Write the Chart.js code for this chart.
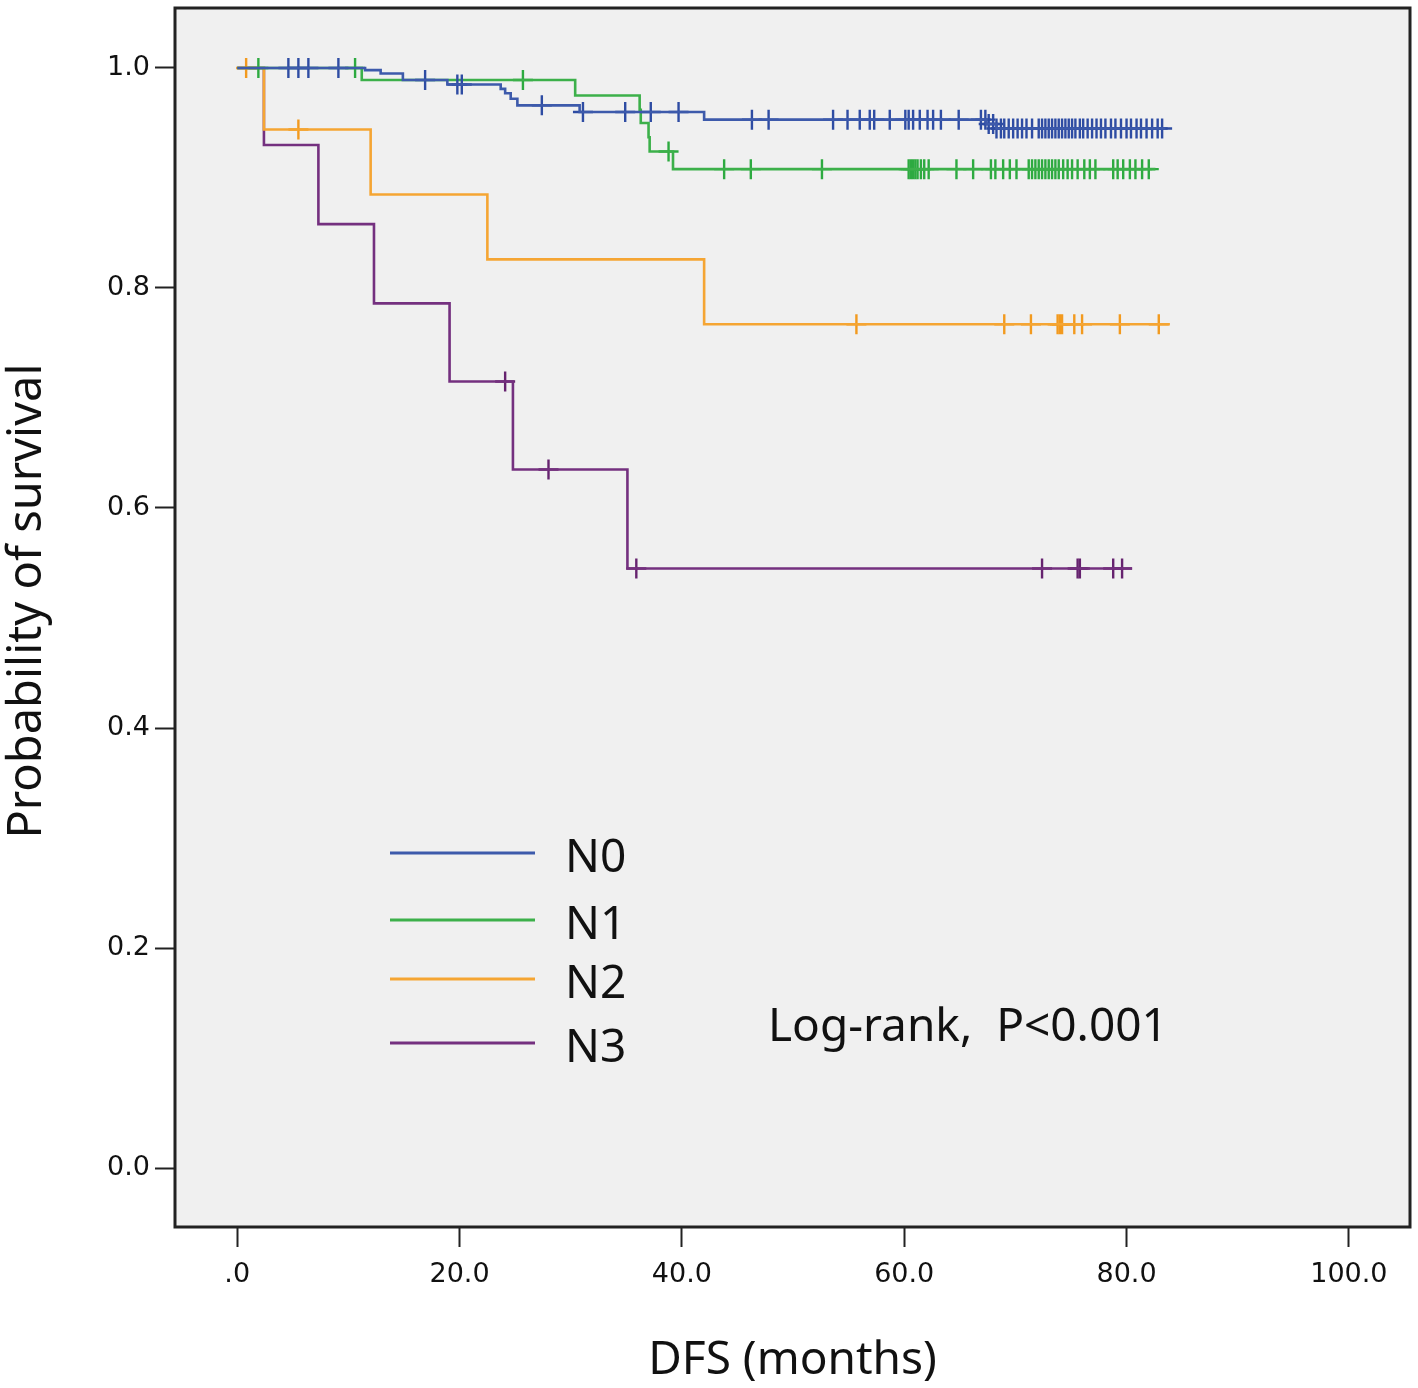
<!DOCTYPE html>
<html>
<head>
<meta charset="utf-8">
<script src="https://cdn.jsdelivr.net/npm/chart.js@4.4.1/dist/chart.umd.min.js"></script>
<style>
  body { margin: 0; background: #ffffff; }
  #wrap { width: 1418px; height: 1388px; }
</style>
</head>
<body>
<div id="wrap"><canvas id="kmChart" width="1418" height="1388"></canvas></div>
<script>
// tick values
var xTicks = [0, 20, 40, 60, 80, 100];
var yTicks = [0, 0.2, 0.4, 0.6, 0.8, 1.0];

var groupNames = ['N0', 'N1', 'N2', 'N3'];
var yTitle = 'Probability of survival';
var xTitle = 'DFS (months)';
var testNote = 'Log-rank,  P<0.001';

// N0 - event times / survival after each step (last entry = end of follow-up)
var n0Times = [0, 11.5, 12.9, 14.9, 18.9, 23.7, 24.1, 24.6, 25.2, 30.8, 42.0, 67.4, 68.3, 83.5];
var n0Surv  = [1.0, 0.998, 0.995, 0.989, 0.985, 0.981, 0.977, 0.972, 0.966, 0.960, 0.953, 0.949, 0.945, 0.945];
var n0Censor = [4.6, 5.5, 6.4, 9.1, 16.9, 19.8, 20.2, 27.4, 31.1, 34.9, 37.2, 39.7, 46.3, 47.8,
    53.6, 54.9, 56.0, 56.9, 57.3, 58.7, 60.1, 60.4, 60.8, 61.4, 62.1, 62.6, 63.3, 64.9, 66.9, 67.3, 67.6,
    68.0, 68.3, 68.7, 69.0, 69.4, 69.8, 70.2, 70.6, 71.0, 71.5, 72.1, 72.4, 72.7, 73.0, 73.3, 73.6,
    73.9, 74.2, 74.5, 74.8, 75.1, 75.4, 75.8, 76.1, 76.5, 76.9, 77.3, 77.7, 78.1, 78.6, 79.0, 79.5,
    80.0, 80.4, 80.9, 81.3, 81.8, 82.3, 82.8, 83.2];

// N1
var n1Times = [0, 11.2, 30.4, 36.2, 36.3, 37.0, 37.1, 39.2, 82.6];
var n1Surv  = [1.0, 0.989, 0.975, 0.962, 0.950, 0.937, 0.924, 0.908, 0.908];
var n1Censor = [1.9, 10.6, 25.7, 38.8, 43.8, 46.2, 52.6, 60.4, 60.6, 60.8, 61.0, 61.2, 61.5, 61.8, 62.2,
    64.7, 66.2, 67.8, 68.2, 68.9, 69.5, 70.1, 71.2, 71.5, 71.8, 72.1, 72.4, 72.7, 73.0, 73.3, 73.6,
    73.9, 74.3, 74.7, 75.1, 75.6, 76.2, 76.7, 77.2, 78.8, 79.2, 79.7, 80.3, 80.8, 81.4, 82.0];

// N2
var n2Times = [0, 2.4, 12.0, 22.5, 42.0, 83.9];
var n2Surv  = [1.0, 0.944, 0.885, 0.826, 0.767, 0.767];
var n2Censor = [0.8, 5.5, 55.7, 69.0, 71.4, 73.8, 74.0, 74.2, 75.3, 76.0, 79.4, 82.9];

// N3
var n3Times = [0, 2.4, 7.3, 12.3, 19.1, 24.8, 35.1, 80.5];
var n3Surv  = [1.0, 0.930, 0.858, 0.786, 0.715, 0.635, 0.545, 0.545];
var n3Censor = [24.1, 28.0, 35.9, 72.4, 75.6, 75.8, 78.8, 79.6];

var lineColors   = ['#3d5aab', '#3cb04a', '#f5a533', '#74307f'];
var censorColors = ['#2e4ca3', '#2daa40', '#f29a1f', '#66236f'];

var allTimes  = [n0Times, n1Times, n2Times, n3Times];
var allSurv   = [n0Surv, n1Surv, n2Surv, n3Surv];
var allCensor = [n0Censor, n1Censor, n2Censor, n3Censor];

// survival level of a curve at time t (censor marks sit on the curve)
function survAt(times, surv, t) {
    var s = surv[0];
    for (var i = 0; i < times.length; i++) {
        if (times[i] <= t) s = surv[i];
    }
    return s;
}

var datasets = [];
groupNames.forEach(function (name, g) {
    datasets.push({
        label: name,
        data: allTimes[g].map(function (t, i) { return { x: t, y: allSurv[g][i] }; }),
        borderColor: lineColors[g],
        borderWidth: 2.6,
        stepped: 'before',
        pointRadius: 0,
        fill: false
    });
    datasets.push({
        label: name + ' censored',
        data: allCensor[g].map(function (t) { return { x: t, y: survAt(allTimes[g], allSurv[g], t) }; }),
        showLine: false,
        pointStyle: 'cross',
        pointRadius: 10,
        borderColor: censorColors[g],
        borderWidth: 2.4
    });
});

// gray plot area + white page + frame
var bgPlugin = {
    id: 'bgPlugin',
    beforeDraw: function (chart) {
        var ctx = chart.ctx, a = chart.chartArea;
        ctx.save();
        ctx.fillStyle = '#ffffff';
        ctx.fillRect(0, 0, chart.width, chart.height);
        ctx.fillStyle = '#f0f0f0';
        ctx.fillRect(a.left, a.top, a.right - a.left, a.bottom - a.top);
        ctx.restore();
    },
    afterDraw: function (chart) {
        var ctx = chart.ctx, a = chart.chartArea;
        ctx.save();
        ctx.strokeStyle = '#222222';
        ctx.lineWidth = 3;
        ctx.strokeRect(a.left, a.top, a.right - a.left, a.bottom - a.top);
        ctx.restore();
    }
};

// legend inside plot, log-rank text, y title
var legendPlugin = {
    id: 'legendPlugin',
    afterDraw: function (chart) {
        var ctx = chart.ctx;
        var rowsY = [853, 920, 979, 1043];
        ctx.save();
        ctx.font = '46px "Noto Sans"';
        ctx.textBaseline = 'middle';
        ctx.textAlign = 'left';
        groupNames.forEach(function (name, g) {
            ctx.strokeStyle = lineColors[g];
            ctx.lineWidth = 3;
            ctx.beginPath();
            ctx.moveTo(390, rowsY[g]);
            ctx.lineTo(535, rowsY[g]);
            ctx.stroke();
            ctx.fillStyle = '#111111';
            ctx.fillText(name, 565, rowsY[g] + 6);
        });
        ctx.fillText(testNote, 768, 1028);

        // y axis title
        ctx.translate(28, 601);
        ctx.rotate(-Math.PI / 2);
        ctx.textAlign = 'center';
        ctx.font = '47px "Noto Sans"';
        ctx.fillText(yTitle, 0, 0);
        ctx.restore();
    }
};

var ctx = document.getElementById('kmChart').getContext('2d');
var kmChart = new Chart(ctx, {
    type: 'line',
    data: { datasets: datasets },
    options: {
        responsive: false,
        animation: false,
        layout: { autoPadding: false, padding: { top: 8, right: 8, left: 0, bottom: 0 } },
        plugins: {
            legend: { display: false },
            tooltip: { enabled: false }
        },
        scales: {
            x: {
                type: 'linear',
                min: -5.6,
                max: 105.5,
                afterFit: function (scale) {
                    scale.height = 161;
                    scale.paddingLeft = 0;
                    scale.paddingRight = 0;
                },
                afterBuildTicks: function (scale) {
                    scale.ticks = xTicks.map(function (v) { return { value: v }; });
                },
                ticks: {
                    padding: 12,
                    color: '#111111',
                    font: { family: '"DejaVu Sans"', size: 27 },
                    maxRotation: 0,
                    autoSkip: false,
                    callback: function (value) {
                        return value === 0 ? '.0' : value.toFixed(1);
                    }
                },
                grid: {
                    drawOnChartArea: false,
                    drawTicks: true,
                    tickLength: 20,
                    tickColor: '#222222',
                    tickWidth: 2
                },
                border: { display: false },
                title: {
                    display: true,
                    text: xTitle,
                    color: '#111111',
                    font: { family: '"Noto Sans"', size: 46 },
                    padding: { top: 0, bottom: 0 }
                }
            },
            y: {
                type: 'linear',
                min: -0.0536,
                max: 1.0545,
                afterFit: function (scale) {
                    scale.width = 175;
                    scale.paddingTop = 0;
                    scale.paddingBottom = 0;
                },
                afterBuildTicks: function (scale) {
                    scale.ticks = yTicks.map(function (v) { return { value: v }; });
                },
                ticks: {
                    padding: 5,
                    color: '#111111',
                    font: { family: '"DejaVu Sans"', size: 27 },
                    autoSkip: false,
                    callback: function (value) { return value.toFixed(1); }
                },
                grid: {
                    drawOnChartArea: false,
                    drawTicks: true,
                    tickLength: 20,
                    tickColor: '#222222',
                    tickWidth: 2
                },
                border: { display: false },
                title: { display: false }
            }
        }
    },
    plugins: [bgPlugin, legendPlugin]
});
</script>
</body>
</html>
